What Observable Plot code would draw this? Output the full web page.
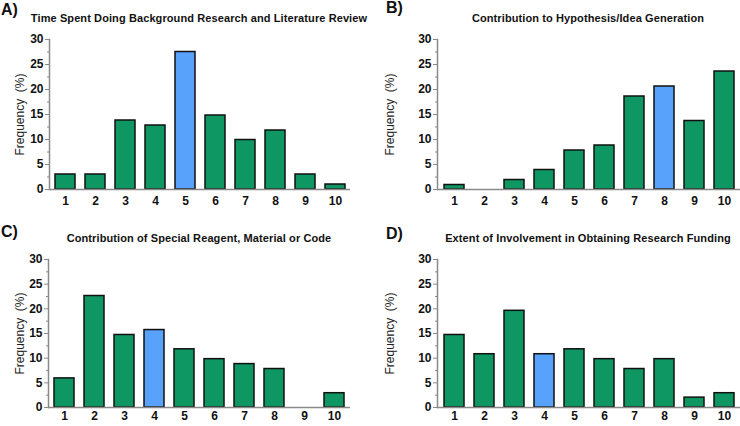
<!DOCTYPE html>
<html>
<head>
<meta charset="utf-8">
<script src="https://cdn.jsdelivr.net/npm/d3@7"></script>
<script src="https://cdn.jsdelivr.net/npm/@observablehq/plot@0.6"></script>
<style>
  html, body { margin: 0; padding: 0; background: #fff; }
  #chart { position: relative; width: 740px; height: 426px; font-family: "Liberation Sans", Arial, sans-serif; overflow: hidden; }
  .panel { position: absolute; }
  .panel svg { overflow: visible; }
  .panel svg text { font-weight: 700; }
  .panel svg .ylab text { font-weight: 400; }
  .title { position: absolute; font-weight: bold; font-size: 11px; letter-spacing: 0.1px; color: #111; white-space: nowrap; transform: translate(-50%, -50%); }
  .tag { position: absolute; font-weight: bold; font-size: 16px; color: #111; }
</style>
</head>
<body>
<div id="chart"></div>
<script>
const categories = [1, 2, 3, 4, 5, 6, 7, 8, 9, 10];
const backgroundResearch = [3, 3, 13.8, 12.8, 27.5, 14.8, 9.9, 11.8, 3, 1];
const hypothesisGeneration = [0.9, 0, 1.9, 3.9, 7.8, 8.8, 18.6, 20.6, 13.7, 23.6];
const reagentMaterialCode = [5.9, 22.6, 14.7, 15.7, 11.8, 9.8, 8.8, 7.8, 0, 2.9];
const researchFunding = [14.7, 10.8, 19.6, 10.8, 11.8, 9.8, 7.8, 9.8, 2, 2.9];
const panelTags = ["A)", "B)", "C)", "D)"];
const panelTitles = [
  "Time Spent Doing Background Research and Literature Review",
  "Contribution to Hypothesis/Idea Generation",
  "Contribution of Special Reagent, Material or Code",
  "Extent of Involvement in Obtaining Research Funding"
];
const highlightCategory = [5, 8, 4, 4];
const yTicks = [0, 5, 10, 15, 20, 25, 30];
const yMinorTicks = [2.5, 7.5, 12.5, 17.5, 22.5, 27.5];
const yLabel = "Frequency\u00a0\u00a0(%)";

const GREEN = "#0f9763";
const BLUE = "#58a2fb";
const AXIS = "#8a8a8a";

const seriesList = [backgroundResearch, hypothesisGeneration, reagentMaterialCode, researchFunding];

const layouts = [
  {left: 0,   top: 0,   mL: 49, mR: 20, mT: 39, mB: 24, pad: 7, tagX: 1,   tagY: 1,   titleX: 199, titleY: 18},
  {left: 370, top: 0,   mL: 67, mR: 0,  mT: 39, mB: 24, pad: 7, tagX: 386, tagY: -1,  titleX: 588, titleY: 18},
  {left: 0,   top: 212, mL: 48, mR: 20, mT: 47, mB: 18, pad: 4, tagX: 1,   tagY: 223, titleX: 199, titleY: 238},
  {left: 370, top: 212, mL: 67, mR: 0,  mT: 47, mB: 18, pad: 4, tagX: 386, tagY: 225, titleX: 588, titleY: 238}
];

const chart = document.getElementById("chart");

seriesList.forEach((values, i) => {
  const L = layouts[i];
  const data = categories.map((c, j) => ({cat: c, value: values[j]}));
  const plot = Plot.plot({
    width: 370,
    height: 213,
    marginLeft: L.mL,
    marginRight: L.mR,
    marginTop: L.mT,
    marginBottom: L.mB,
    style: {fontFamily: "'Liberation Sans', Arial, sans-serif", background: "transparent", overflow: "visible"},
    x: {type: "band", domain: categories, paddingInner: 1/3, paddingOuter: 0.18, label: null},
    y: {domain: [0, 30], label: null},
    marks: [
      Plot.barY(data, {x: "cat", y: "value", fill: d => d.cat === highlightCategory[i] ? BLUE : GREEN, stroke: "#111", strokeWidth: 1.5}),
      Plot.frame({anchor: "left", stroke: AXIS, strokeWidth: 1.5}),
      Plot.ruleY([0], {stroke: AXIS, strokeWidth: 1.5}),
      Plot.axisY({ticks: yTicks, tickSize: 4, tickPadding: 2, stroke: AXIS, fill: "#111", fontSize: 12, label: null}),
      Plot.axisY({ticks: yMinorTicks, tickSize: 2, text: null, stroke: AXIS, label: null}),
      Plot.axisX({tickSize: 0, tickPadding: L.pad, fill: "#111", fontSize: 12, label: null}),
      Plot.text([yLabel], {text: d => d, frameAnchor: "left", textAnchor: "middle", rotate: -90, dx: -L.mL + 20, fontSize: 12, fill: "#222", className: "ylab"})
    ]
  });
  const wrap = document.createElement("div");
  wrap.className = "panel";
  wrap.style.left = L.left + "px";
  wrap.style.top = L.top + "px";
  wrap.appendChild(plot);
  chart.appendChild(wrap);

  const title = document.createElement("div");
  title.className = "title";
  title.style.left = L.titleX + "px";
  title.style.top = L.titleY + "px";
  title.textContent = panelTitles[i];
  chart.appendChild(title);

  const tag = document.createElement("div");
  tag.className = "tag";
  tag.style.left = L.tagX + "px";
  tag.style.top = L.tagY + "px";
  tag.textContent = panelTags[i];
  chart.appendChild(tag);
});
</script>
</body>
</html>
